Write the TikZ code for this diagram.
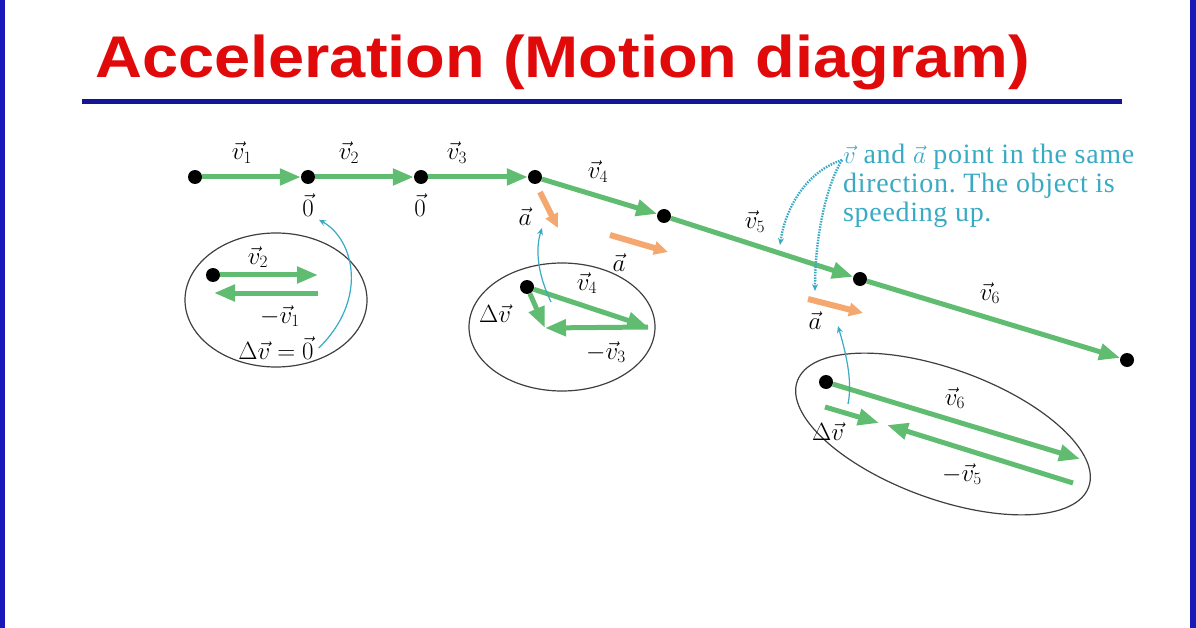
\documentclass[tikz,border=0pt]{standalone}
\usepackage{fontspec}
\setmainfont{Liberation Serif}
\newfontfamily\titlefont{Liberation Sans}
\newfontfamily\notefont[LetterSpace=2.4]{Liberation Serif}
\usetikzlibrary{arrows.meta}
\definecolor{vgreen}{RGB}{96,188,112}
\definecolor{aorange}{RGB}{244,168,112}
\definecolor{lcyan}{RGB}{56,170,196}
\definecolor{titred}{RGB}{225,10,10}
\definecolor{barblue}{RGB}{20,20,150}
\definecolor{frameblue}{RGB}{25,25,185}
\frenchspacing

\begin{document}
\begin{tikzpicture}[x=1pt,y=-1pt,
  bille/.style={circle,fill=black,inner sep=0pt,minimum size=14pt},
  vitesse/.style={vgreen,line width=5pt,-{Triangle[length=21pt,width=16pt]}},
  accel/.style={aorange,line width=6pt,-{Triangle[length=14pt,width=13pt]}},
  lien/.style={lcyan,line width=1.2pt,-{Stealth[length=7pt,width=6pt]}},
  pointille/.style={lien,line width=2.4pt,dash pattern=on 1.5pt off 1.2pt},
  etiq/.style={font=\fontsize{25}{27}\selectfont,inner sep=1pt},
  bulle/.style={black!75,line width=1.2pt}]
%cadre
\useasboundingbox (0,0) rectangle (1196,628);
\fill[white] (0,0) rectangle (1196,628);
\fill[frameblue] (0,0) rectangle (5,628);
\fill[frameblue] (1190,0) rectangle (1196,628);
%titre
\node[anchor=base west,inner sep=0pt,text=titred,font=\titlefont\bfseries\fontsize{56}{60}\selectfont] (titre) at (95,78) {\scalebox{1.16}[1.05]{Acceleration (Motion diagram)}};
\draw[barblue,line width=5pt] (82,102) -- (1122,102);
%positions
\foreach \n/\x/\y in {1/195/177,2/308/177,3/421/177,4/535/177,5/664/216,6/860/279,7/1127/360}
  \node[bille] (p\n) at (\x,\y) {};
\foreach \a/\b in {1/2,2/3,3/4,4/5,5/6,6/7}
  \draw[vitesse] (p\a) -- (p\b);
\node[etiq] (lv1) at (242,153) {$\vec{v}_1$};
\node[etiq] (lv2) at (349,153) {$\vec{v}_2$};
\node[etiq] (lv3) at (457,153) {$\vec{v}_3$};
\node[etiq] (lv4) at (598,172) {$\vec{v}_4$};
\node[etiq] (lv5) at (755,222) {$\vec{v}_5$};
\node[etiq] (lv6) at (990,293) {$\vec{v}_6$};
\node[etiq] (lz1) at (308,205) {$\vec{0}$};
\node[etiq] (lz2) at (420,205) {$\vec{0}$};
%acceleration
\coordinate (a1s) at (540,192); \coordinate (a1e) at (558,228);
\coordinate (a2s) at (610,235); \coordinate (a2e) at (668,252);
\coordinate (a3s) at (808,299); \coordinate (a3e) at (863,313);
\draw[accel] (a1s) -- (a1e);
\draw[accel] (a2s) -- (a2e);
\draw[accel] (a3s) -- (a3e);
\node[etiq] (la1) at (525,217) {$\vec{a}$};
\node[etiq] (la2) at (619,263) {$\vec{a}$};
\node[etiq] (la3) at (815,321) {$\vec{a}$};
%bulle 1
\draw[bulle] (276,300) ellipse [x radius=91, y radius=67];
\node[bille] (q1) at (213,275) {};
\coordinate (q2) at (318,275); \coordinate (q3) at (318,293); \coordinate (q4) at (214,293);
\draw[vitesse] (q1) -- (q2);
\draw[vitesse] (q3) -- (q4);
\node[etiq] (lq2) at (258,257) {$\vec{v}_2$};
\node[etiq] (lq1) at (280,316) {$-\vec{v}_1$};
\node[etiq] (ldv1) at (276,348) {$\Delta\vec{v}=\vec{0}$};
\draw[lien] ([xshift=4pt]ldv1.east) .. controls (368,300) and (355,240) .. ([xshift=4pt,yshift=-2pt]lz1.south east);
%bulle 2
\draw[bulle] (562,327) ellipse [x radius=93, y radius=64];
\node[bille] (m1) at (527,287) {};
\coordinate (m2) at (648,327); \coordinate (m3) at (545,328);
\draw[vitesse] (m1) -- (m2);
\draw[vitesse] (m2) -- (m3);
\draw[vitesse] (m1) -- (m3);
\node[etiq] (lm4) at (587,283) {$\vec{v}_4$};
\node[etiq] (lm3) at (606,352) {$-\vec{v}_3$};
\node[etiq] (ldv2) at (495,314) {$\Delta\vec{v}$};
\coordinate (c2) at (551,302);
\draw[lien] (c2) .. controls (538,275) and (535,250) .. (542,228);
%bulle 3
\draw[bulle,rotate around={-20:(943,434)}] (943,434) ellipse [x radius=155, y radius=65];
\node[bille] (r1) at (826,382) {};
\coordinate (r2) at (1080,459); \coordinate (r3) at (1073,483); \coordinate (r4) at (887,425);
\coordinate (r5) at (825,407); \coordinate (r6) at (879,423);
\draw[vitesse] (r1) -- (r2);
\draw[vitesse] (r3) -- (r4);
\draw[vitesse] (r5) -- (r6);
\node[etiq] (lr6) at (955,398) {$\vec{v}_6$};
\node[etiq] (lr5) at (962,474) {$-\vec{v}_5$};
\node[etiq] (ldv3) at (828,432) {$\Delta\vec{v}$};
\coordinate (c3) at (848,404);
\draw[lien] (c3) .. controls (853,380) and (845,350) .. (838,326);
%remarque
\node[lcyan,anchor=north west,align=left,inner sep=0pt,font=\notefont\fontsize{28}{29}\selectfont] (note) at (843,144)
  {$\vec{v}$ and $\vec{a}$ point in the same\\direction. The object is\\speeding up.};
\coordinate (d0) at (842,160);
\draw[pointille] (d0) .. controls (805,172) and (785,210) .. (780,245);
\draw[pointille] (d0) .. controls (825,188) and (815,240) .. (815,291);
\end{tikzpicture}
\end{document}
